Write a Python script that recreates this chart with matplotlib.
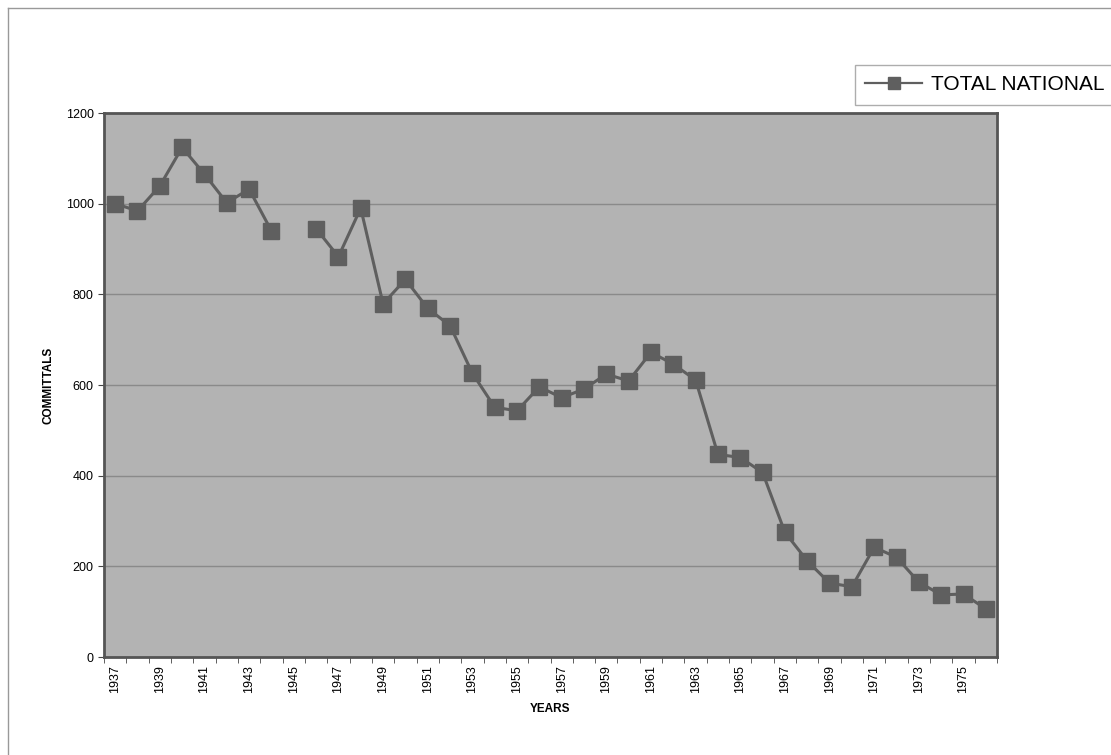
import numpy as np
import matplotlib.pyplot as plt
from matplotlib.lines import Line2D

plt.rcParams["font.family"] = ["Liberation Sans", "DejaVu Sans"]

years = list(range(1937, 1977))
# None = no data (1945)
committals = [
    1000, 984, 1039, 1124, 1065, 1002, 1032, 940, None, 945,
    883, 990, 779, 833, 769, 731, 626, 551, 543, 596,
    572, 591, 624, 609, 672, 646, 611, 447, 440, 407,
    275, 212, 163, 155, 242, 220, 165, 137, 139, 106,
]
y_ticks = [0, 200, 400, 600, 800, 1000, 1200]

W, H = 1111, 755
fig = plt.figure(figsize=(W / 100, H / 100), dpi=100)
ax = fig.add_axes([104 / W, 1 - 657 / H, (997 - 104) / W, (657 - 113) / H])

vals = np.array([np.nan if v is None else v for v in committals], dtype=float)
x = np.arange(len(years))
col = "#5f5f5f"
ax.set_facecolor("#b3b3b3")
ax.plot(x, vals, color=col, linewidth=2.2, marker="s", markersize=11,
        markerfacecolor=col, markeredgecolor=col, zorder=3)

ax.set_xlim(-0.5, len(years) - 0.5)
ax.set_ylim(0, 1200)
ax.set_yticks(y_ticks)
ax.set_yticklabels([str(v) for v in y_ticks], fontsize=9)
ax.yaxis.grid(True, color="#8a8a8a", linewidth=1)
ax.set_axisbelow(True)

# category boundaries get tick marks, every other category gets a label
ax.set_xticks(np.arange(-0.5, len(years)), minor=True)
ax.set_xticks(x[::2])
ax.set_xticklabels([str(y) for y in years[::2]], rotation=90, fontsize=9)
ax.tick_params(axis="x", which="major", length=0, pad=6)
ax.tick_params(axis="x", which="minor", length=4, color="#444444")
ax.tick_params(axis="y", length=4, color="#444444")

for s in ax.spines.values():
    s.set_color("#555555")
    s.set_linewidth(2)

ax.set_xlabel("YEARS", fontsize=8.5, fontweight="bold", labelpad=7)
ax.set_ylabel("COMMITTALS", fontsize=8.5, fontweight="bold", labelpad=8)

handle = Line2D([], [], color=col, linewidth=1.6, marker="s", markersize=9,
                markerfacecolor=col, markeredgecolor=col)
leg = fig.legend([handle], ["TOTAL NATIONAL"], loc="upper left",
                 bbox_to_anchor=(855 / W, 1 - 65 / H), fontsize=15,
                 frameon=True, fancybox=False, handlelength=2.7,
                 borderpad=0.5, handletextpad=0.45, borderaxespad=0)
leg.get_frame().set_edgecolor("#999999")
leg.get_frame().set_linewidth(1)

# outer chart border (top and left visible)
fig.add_artist(Line2D([8 / W, 8 / W], [0, 1 - 8 / H], color="#999999", linewidth=1))
fig.add_artist(Line2D([8 / W, 1], [1 - 8 / H, 1 - 8 / H], color="#999999", linewidth=1))

fig.savefig("out.png", dpi=100, facecolor="white")
